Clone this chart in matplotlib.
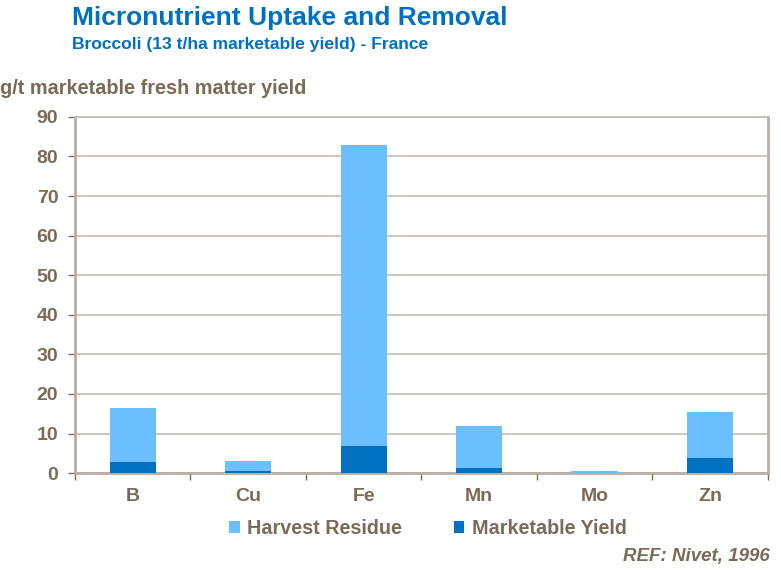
import matplotlib.pyplot as plt
import numpy as np

plt.rcParams['font.family'] = ['Liberation Sans', 'DejaVu Sans']

nutrients = ["B", "Cu", "Fe", "Mn", "Mo", "Zn"]
marketable_yield = [2.8, 0.5, 6.8, 1.3, 0.05, 3.8]
harvest_residue = [13.6, 2.5, 76.2, 10.6, 0.45, 11.6]
y_ticks = [0, 10, 20, 30, 40, 50, 60, 70, 80, 90]

BROWN = "#7a6a58"
GRID = "#c4bcb4"
BLUE_TITLE = "#0070c0"
DARK = "#0070c0"
LIGHT = "#6bbfff"

fig = plt.figure(figsize=(7.81, 5.7), dpi=100)
ax = fig.add_axes([0.096, 0.170, 0.887, 0.625])

x = np.arange(len(nutrients))
ax.bar(x, marketable_yield, width=0.4, color=DARK, zorder=3, label="Marketable Yield")
ax.bar(x, harvest_residue, width=0.4, bottom=marketable_yield, color=LIGHT, zorder=3,
       label="Harvest Residue")

ax.set_xlim(-0.5, len(nutrients) - 0.5)
ax.set_ylim(0, 90)
ax.set_yticks(y_ticks)
ax.set_xticks(x)
ax.set_xticklabels(nutrients)
ax.set_xticks(np.arange(-0.5, len(nutrients)), minor=True)
ax.tick_params(axis="x", which="major", length=0, pad=11)
ax.tick_params(axis="x", which="minor", length=5, color=BROWN, width=1)
ax.tick_params(axis="y", length=5, color=BROWN, width=1, pad=7)
for lbl in ax.get_xticklabels() + ax.get_yticklabels():
    lbl.set_fontsize(14)
    lbl.set_fontweight("bold")
    lbl.set_color(BROWN)

ax.grid(axis="y", color=GRID, linewidth=1.2, zorder=0)
for side in ["left", "right", "top", "bottom"]:
    ax.spines[side].set_color("#b8aea4")
    ax.spines[side].set_linewidth(2)
ax.spines["top"].set_linewidth(1.2)
ax.spines["top"].set_color(GRID)

fig.text(0.092, 0.968, "Micronutrient Uptake and Removal", fontsize=19, fontweight="bold",
         color=BLUE_TITLE, va="center")
fig.text(0.092, 0.922, "Broccoli (13 t/ha marketable yield) - France", fontsize=12.6,
         fontweight="bold", color=BLUE_TITLE, va="center")
fig.text(0.0, 0.844, "g/t marketable fresh matter yield", fontsize=14.3, fontweight="bold",
         color=BROWN, va="center")

handles, labels = ax.get_legend_handles_labels()
leg = fig.legend(handles[::-1], labels[::-1], loc="center", bbox_to_anchor=(0.548, 0.073),
                 ncol=2, frameon=False, handlelength=0.55, handleheight=0.55,
                 handletextpad=0.4, columnspacing=2.6,
                 prop={"size": 14.2, "weight": "bold"})
for t in leg.get_texts():
    t.set_color(BROWN)

fig.text(0.986, 0.024, "REF: Nivet, 1996", fontsize=13.5, fontweight="bold", style="italic",
         color=BROWN, ha="right", va="center")

fig.savefig("out.png", dpi=100)
